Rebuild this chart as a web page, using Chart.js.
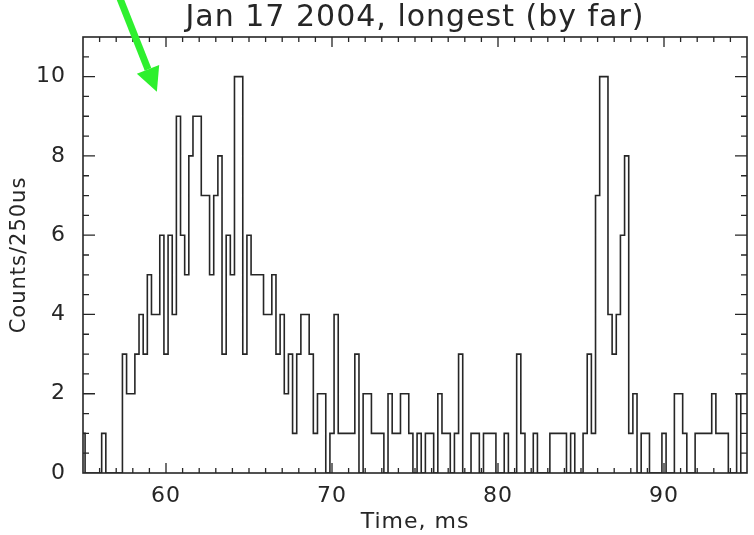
<!DOCTYPE html>
<html>
<head>
<meta charset="utf-8">
<script src="https://cdn.jsdelivr.net/npm/chart.js@4.4.1/dist/chart.umd.min.js"></script>
<style>
  html, body { margin: 0; padding: 0; background: #fff; }
</style>
</head>
<body>
<canvas id="grafica" width="754" height="535"></canvas>
<script>
const titulo = 'Jan 17 2004, longest (by far)';
const tituloX = 'Time, ms';
const tituloY = 'Counts/250us';

// histogram: 250 us bins, first bin centred at 55.0 ms
const tInicio = 55.0;
const anchoBin = 0.25;
const cuentas = [
  1, 0, 0, 0, 0, 1, 0, 0, 0, 0,
  3, 2, 2, 3, 4, 3, 5, 4, 4, 6,
  3, 6, 4, 9, 6, 5, 8, 9, 9, 7,
  7, 5, 7, 8, 3, 6, 5, 10, 10, 3,
  6, 5, 5, 5, 4, 4, 5, 3, 4, 2,
  3, 1, 3, 4, 4, 3, 1, 2, 2, 0,
  1, 4, 1, 1, 1, 1, 3, 0, 2, 2,
  1, 1, 1, 0, 2, 1, 1, 2, 2, 1,
  0, 1, 0, 1, 1, 0, 2, 1, 1, 0,
  1, 3, 0, 0, 1, 1, 0, 1, 1, 1,
  0, 0, 1, 0, 0, 3, 1, 0, 0, 1,
  0, 0, 0, 1, 1, 1, 1, 0, 1, 0,
  0, 1, 3, 1, 7, 10, 10, 4, 3, 4,
  6, 8, 1, 2, 0, 1, 1, 0, 0, 0,
  1, 0, 0, 2, 2, 1, 0, 0, 1, 1,
  1, 1, 2, 1, 1, 1, 0, 0, 2, 0,
  0
];

const xRango = [55, 95];
const yRango = [0, 11];
const xTicks = [60, 70, 80, 90];
const yTicks = [0, 2, 4, 6, 8, 10];
const xMenor = 1;     // ms between minor ticks
const yMenor = 0.5;

// green pointer, in data units
const flecha = { desde: { x: 57.2, y: 12.0 }, hasta: { x: 59.45, y: 9.62 } };

const tinta = '#262626';
const fuente = { family: 'DejaVu Sans', size: 22, weight: 'normal' };

// the old plotting fonts are wide, so open the letters up a bit
const espaciado = {
  id: 'espaciado',
  beforeDraw(chart) { chart.ctx.letterSpacing = '1px'; }
};

const marco = {
  id: 'marco',
  afterDraw(chart) {
    const { ctx, chartArea: a, scales: { x, y } } = chart;
    ctx.save();
    ctx.strokeStyle = tinta;
    ctx.lineWidth = 1.6;
    ctx.strokeRect(a.left, a.top, a.right - a.left, a.bottom - a.top);

    ctx.lineWidth = 1.3;
    ctx.beginPath();
    for (let v = xRango[0] + xMenor; v < xRango[1]; v += xMenor) {
      const px = x.getPixelForValue(v);
      const l = xTicks.includes(v) ? 10 : 5;
      ctx.moveTo(px, a.bottom); ctx.lineTo(px, a.bottom - l);
      ctx.moveTo(px, a.top); ctx.lineTo(px, a.top + l);
    }
    for (let v = yRango[0] + yMenor; v < yRango[1]; v += yMenor) {
      const py = y.getPixelForValue(v);
      const l = yTicks.includes(v) ? 12 : 6;
      ctx.moveTo(a.left, py); ctx.lineTo(a.left + l, py);
      ctx.moveTo(a.right, py); ctx.lineTo(a.right - l, py);
    }
    ctx.stroke();

    // arrow
    const x0 = x.getPixelForValue(flecha.desde.x), y0 = y.getPixelForValue(flecha.desde.y);
    const x1 = x.getPixelForValue(flecha.hasta.x), y1 = y.getPixelForValue(flecha.hasta.y);
    const ang = Math.atan2(y1 - y0, x1 - x0);
    const largo = 24, medio = 12;
    const bx = x1 - largo * Math.cos(ang), by = y1 - largo * Math.sin(ang);
    ctx.strokeStyle = '#2ef02e';
    ctx.fillStyle = '#2ef02e';
    ctx.lineWidth = 7;
    ctx.beginPath();
    ctx.moveTo(x0, y0);
    ctx.lineTo(bx, by);
    ctx.stroke();
    ctx.beginPath();
    ctx.moveTo(x1, y1);
    ctx.lineTo(bx + medio * Math.sin(ang), by - medio * Math.cos(ang));
    ctx.lineTo(bx - medio * Math.sin(ang), by + medio * Math.cos(ang));
    ctx.closePath();
    ctx.fill();
    ctx.restore();
  }
};

new Chart(document.getElementById('grafica').getContext('2d'), {
  type: 'line',
  data: {
    datasets: [{
      data: cuentas.map((c, i) => ({ x: tInicio + i * anchoBin, y: c })),
      stepped: 'middle',
      borderColor: tinta,
      borderWidth: 1.6,
      pointRadius: 0,
      fill: false
    }]
  },
  options: {
    responsive: false,
    animation: false,
    layout: { padding: { left: 0, right: 7, top: 0, bottom: 0 } },
    plugins: {
      legend: { display: false },
      tooltip: { enabled: false },
      title: {
        display: true,
        fullSize: false,
        text: titulo,
        color: tinta,
        font: { family: 'DejaVu Sans', size: 30, weight: 'normal', lineHeight: 1 },
        padding: { top: 3, bottom: 4 }
      }
    },
    scales: {
      x: {
        type: 'linear',
        min: xRango[0],
        max: xRango[1],
        afterBuildTicks: s => { s.ticks = xTicks.map(v => ({ value: v })); },
        afterFit: s => { s.height = 62; },
        grid: { display: false },
        border: { display: false },
        ticks: { color: tinta, font: fuente, padding: 2, maxRotation: 0 },
        title: { display: true, text: tituloX, color: tinta, font: fuente, padding: 0 }
      },
      y: {
        min: yRango[0],
        max: yRango[1],
        afterBuildTicks: s => { s.ticks = yTicks.map(v => ({ value: v })); },
        afterFit: s => { s.width = 83; },
        grid: { display: false },
        border: { display: false },
        ticks: { color: tinta, font: fuente, padding: 9 },
        title: {
          display: true, text: tituloY, color: tinta,
          font: { family: 'DejaVu Sans', size: 21, weight: 'normal' },
          padding: { top: 7, bottom: 0 }
        }
      }
    }
  },
  plugins: [espaciado, marco]
});
</script>
</body>
</html>
